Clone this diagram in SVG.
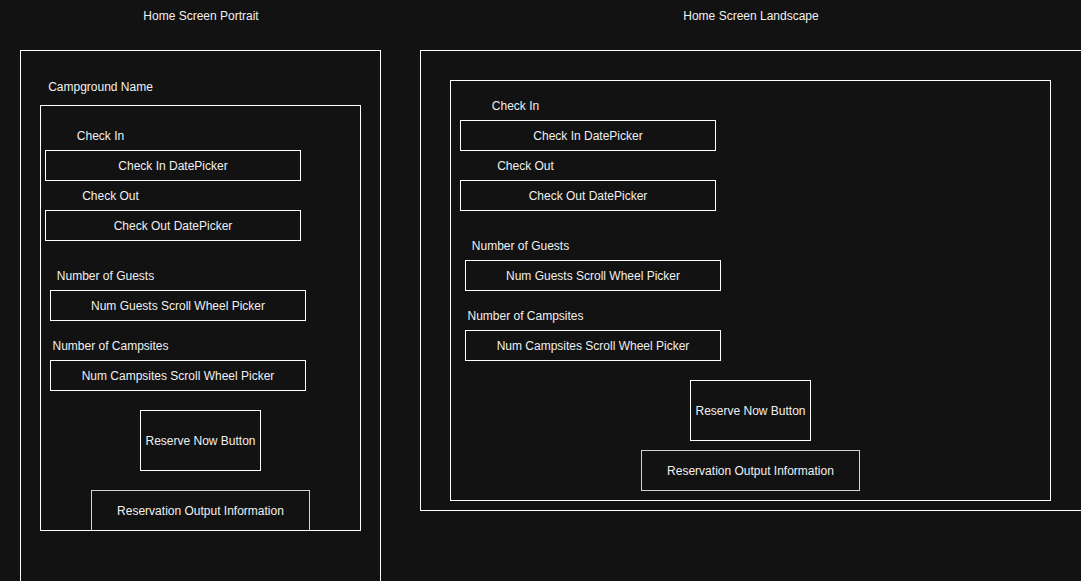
<svg xmlns="http://www.w3.org/2000/svg" width="1081" height="581" viewBox="0 0 1081 581">
<style>
.b{fill:#121212;stroke:#ffffff;stroke-width:1}
.g{fill:#121212;stroke:#d4d4d4;stroke-width:1}
text{font-family:"Liberation Sans",Arial,sans-serif;font-size:12px;fill:#f0f0f0;text-anchor:middle;dominant-baseline:central}
</style>
<rect width="1081" height="581" fill="#121212"/>
<g id="portrait">
<text x="201" y="15.5">Home Screen Portrait</text>
<rect class="b" x="20.5" y="50.5" width="360" height="540"/>
<text x="100.5" y="86.5">Campground Name</text>
<rect class="b" x="40.5" y="105.5" width="320" height="425"/>
</g>
<g id="p-checkin-label"><text x="100.5" y="136">Check In</text></g>
<g id="p-checkin"><rect class="b" x="45.5" y="150.5" width="255" height="30"/><text x="173" y="165.5">Check In DatePicker</text></g>
<g id="p-checkout-label"><text x="110.5" y="196">Check Out</text></g>
<g id="p-checkout"><rect class="b" x="45.5" y="210.5" width="255" height="30"/><text x="173" y="225.5">Check Out DatePicker</text></g>
<g id="p-guests-label"><text x="105.5" y="276">Number of Guests</text></g>
<g id="p-guests"><rect class="b" x="50.5" y="290.5" width="255" height="30"/><text x="178" y="305.5">Num Guests Scroll Wheel Picker</text></g>
<g id="p-sites-label"><text x="110.5" y="346">Number of Campsites</text></g>
<g id="p-sites"><rect class="b" x="50.5" y="360.5" width="255" height="30"/><text x="178" y="375.5">Num Campsites Scroll Wheel Picker</text></g>
<g id="p-reserve"><rect class="b" x="140.5" y="410.5" width="120" height="60"/><text x="200.5" y="440.5">Reserve Now Button</text></g>
<g id="p-output"><rect class="g" x="91.5" y="490.5" width="218" height="40"/><line x1="40.5" y1="530.5" x2="360.5" y2="530.5" stroke="#ffffff"/><text x="200.5" y="510.5">Reservation Output Information</text></g>

<g id="landscape">
<text x="751" y="15.5">Home Screen Landscape</text>
<rect class="b" x="420.5" y="50.5" width="680" height="460"/>
<rect class="b" x="450.5" y="80.5" width="600" height="420"/>
</g>
<g id="l-checkin-label"><text x="515.5" y="106">Check In</text></g>
<g id="l-checkin"><rect class="b" x="460.5" y="120.5" width="255" height="30"/><text x="588" y="135.5">Check In DatePicker</text></g>
<g id="l-checkout-label"><text x="525.5" y="166">Check Out</text></g>
<g id="l-checkout"><rect class="b" x="460.5" y="180.5" width="255" height="30"/><text x="588" y="195.5">Check Out DatePicker</text></g>
<g id="l-guests-label"><text x="520.5" y="246">Number of Guests</text></g>
<g id="l-guests"><rect class="b" x="465.5" y="260.5" width="255" height="30"/><text x="593" y="275.5">Num Guests Scroll Wheel Picker</text></g>
<g id="l-sites-label"><text x="525.5" y="316">Number of Campsites</text></g>
<g id="l-sites"><rect class="b" x="465.5" y="330.5" width="255" height="30"/><text x="593" y="345.5">Num Campsites Scroll Wheel Picker</text></g>
<g id="l-reserve"><rect class="b" x="690.5" y="380.5" width="120" height="60"/><text x="750.5" y="410.5">Reserve Now Button</text></g>
<g id="l-output"><rect class="g" x="641.5" y="450.5" width="218" height="40"/><text x="750.5" y="470.5">Reservation Output Information</text></g>
<g id="connectors"/>
</svg>
